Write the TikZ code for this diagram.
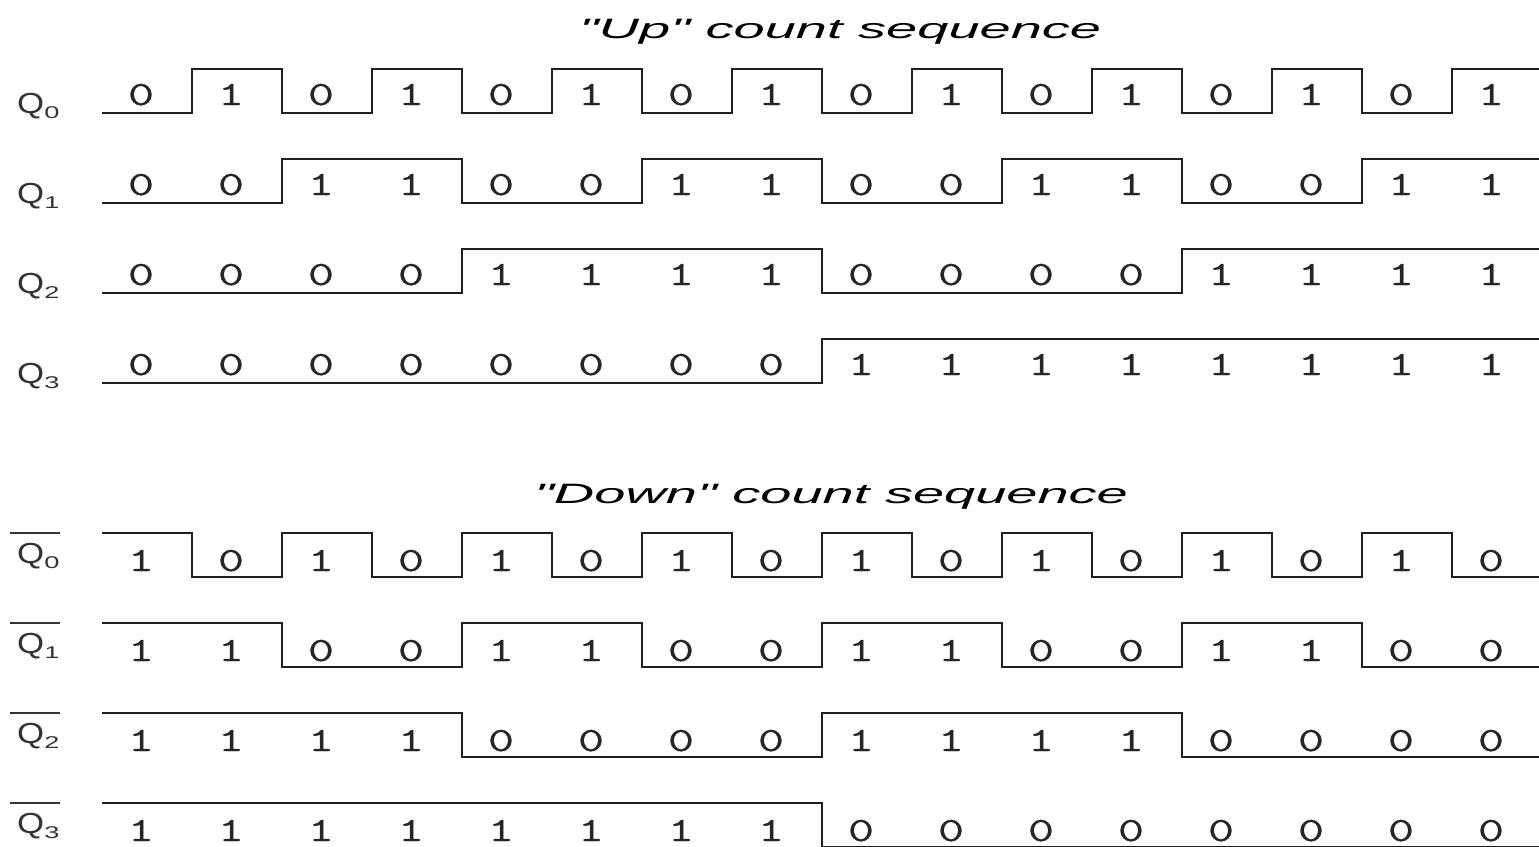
\documentclass[tikz,border=0pt]{standalone}
\usepackage{fontspec}
\setmainfont{Liberation Sans}
\newfontfamily\bitfont[FakeStretch=1.5, FakeBold=0.6]{Latin Modern Mono}
\newfontfamily\lblfont[FakeStretch=1.2]{Liberation Sans}
\newfontfamily\subfont[FakeStretch=1.6]{Liberation Sans}
\newfontfamily\titlefont[FakeStretch=2]{Liberation Sans}
\usetikzlibrary{positioning}

\newcommand{\qsub}[1]{\raisebox{-5pt}{\subfont\fontsize{17}{17}\selectfont #1}}

\begin{document}
\begin{tikzpicture}[x=1pt, y=-1pt,
    wave/.style={line width=2.4pt, black!88, line join=miter},
    bar/.style={line width=2.6pt, black!80},
    bit/.style={font=\bitfont\fontsize{34}{34}\selectfont, text=black!85, inner sep=0pt, anchor=base},
    lbl/.style={font=\lblfont\fontsize{29}{29}\selectfont, text=black!80, inner sep=0pt, anchor=base west},
    title/.style={font=\titlefont\itshape\fontsize{28}{28}\selectfont, inner sep=0pt, anchor=base}]
  \useasboundingbox (0,0) rectangle (1539,846);

  % Titles
  \node[title] (uptitle) at (840,38) {"Up" count sequence};
  \node[title] (downtitle) at (831,503) {"Down" count sequence};

  % Labels
  \foreach \k in {0,...,3}{
    \node[lbl] (qu\k) at (17,{113+90*\k}) {Q\qsub{\k}};
    \node[lbl] (qd\k) at (17,{563+90*\k}) {Q\qsub{\k}};
    \draw[bar] (10,{533+90*\k}) -- (60,{533+90*\k});
  }

  % Up waveforms
  \foreach \k in {0,...,3}
    \draw[wave] (102,{113+90*\k})
      \foreach \i [evaluate=\i as \lvl using {floor(\i/2^\k)-2*floor(\i/2^(\k+1))}] in {0,...,15}{
        -- ({102+90*\i},{113+90*\k-44*\lvl}) -- ({192+90*\i},{113+90*\k-44*\lvl})
      };

  % Down waveforms
  \foreach \k in {0,...,3}
    \draw[wave] (102,{533+90*\k})
      \foreach \i [evaluate=\i as \lvl using {1-floor(\i/2^\k)+2*floor(\i/2^(\k+1))}] in {0,...,15}{
        -- ({102+90*\i},{577+90*\k-44*\lvl}) -- ({192+90*\i},{577+90*\k-44*\lvl})
      };

  % Bits
  \foreach \k in {0,...,3}
    \foreach \i in {0,...,15}{
      \pgfmathtruncatemacro{\lvl}{floor(\i/2^\k)-2*floor(\i/2^(\k+1))}
      \pgfmathtruncatemacro{\nlvl}{1-\lvl}
      \node[bit] (u\k-\i) at ({141+90*\i},{105+90*\k}) {\lvl};
      \node[bit] (d\k-\i) at ({141+90*\i},{571+90*\k}) {\nlvl};
    }
\end{tikzpicture}
\end{document}
